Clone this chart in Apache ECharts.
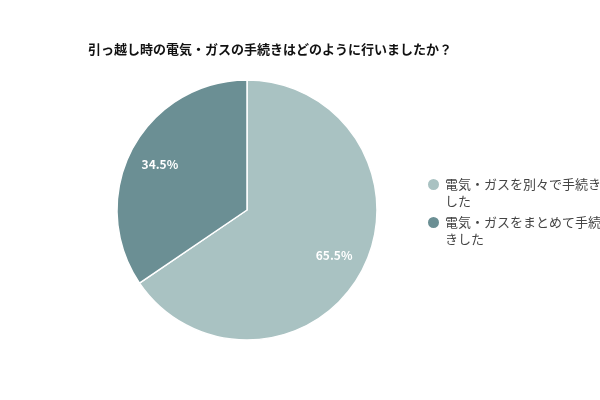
<!doctype html>
<html lang="ja">
<head>
<meta charset="utf-8" />
<script src="https://cdn.jsdelivr.net/npm/echarts@6/dist/echarts.min.js"></script>
<style>
  html, body { margin: 0; padding: 0; background: #fff; }
  #chart { width: 600px; height: 400px; }
</style>
</head>
<body>
<div id="chart"></div>
<script>
const FONT = '"Noto Sans CJK JP", "Noto Sans", sans-serif';
const title = "引っ越し時の電気・ガスの手続きはどのように行いましたか？";
const categories = ["電気・ガスを別々で手続きした", "電気・ガスをまとめて手続きした"];
const values = [65.5, 34.5];
const colors = ["#a9c2c2", "#6b8f94"];
// push labels outward along each slice's mid angle
const labelOffsets = [[27, 14], [-27, -14]];
// circle sitting at the top of a 13x34 box so it lines up with the first text line
const topDot = "path://M0,0 M13,34 M0,8.5 A6.5,6.5 0 1,1 13,8.5 A6.5,6.5 0 1,1 0,8.5 Z";

const chart = echarts.init(document.getElementById("chart"), null, { renderer: "canvas" });
chart.setOption({
  animation: false,
  backgroundColor: "#ffffff",
  color: colors,
  title: {
    text: title,
    left: 83,
    top: 38,
    textStyle: { fontFamily: FONT, fontSize: 13, fontWeight: "bold", color: "#111" },
  },
  legend: {
    orient: "vertical",
    left: 421,
    top: 170,
    itemWidth: 13,
    itemHeight: 34,
    itemGap: 2,
    icon: topDot,
    textStyle: {
      fontFamily: FONT,
      fontSize: 13,
      color: "#444",
      width: 158,
      overflow: "breakAll",
      lineHeight: 17,
    },
    data: categories,
  },
  series: [{
    type: "pie",
    center: [247, 210],
    radius: 130,
    startAngle: 90,
    clockwise: true,
    itemStyle: { borderColor: "#fff", borderWidth: 1.5 },
    label: {
      show: true,
      position: "inside",
      formatter: "{c}%",
      fontFamily: FONT,
      fontSize: 12,
      fontWeight: "bold",
      color: "#fff",
    },
    labelLine: { show: false },
    data: categories.map((name, i) => ({
      name,
      value: values[i],
      label: { offset: labelOffsets[i] },
    })),
  }],
});
</script>
</body>
</html>
